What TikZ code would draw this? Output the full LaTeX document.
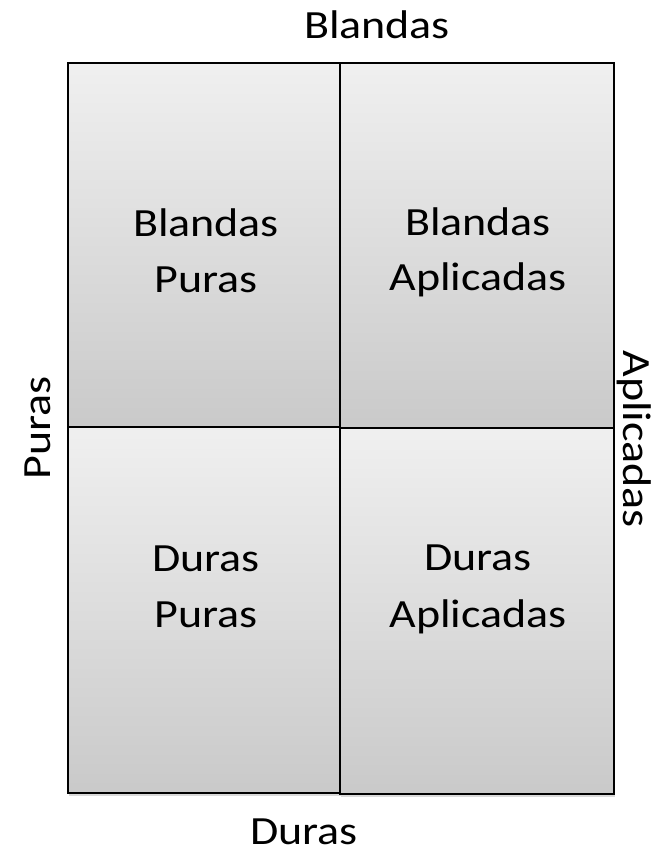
\documentclass[tikz,border=0pt]{standalone}
\usepackage{fontspec}
\setmainfont{Carlito}
\usetikzlibrary{shadows}
\newcommand\widetxt[1]{\scalebox{1.15}[1]{#1}}
\begin{document}
\begin{tikzpicture}[x=0.75pt,y=-0.75pt,
  cell/.style={draw=black, line width=1.1pt, top color=black!6, bottom color=black!21,
    drop shadow={opacity=0.3, shadow xshift=1pt, shadow yshift=-2pt}},
  txt/.style={font=\fontsize{30}{36}\selectfont, inner sep=0pt, anchor=base}]
\useasboundingbox (0,0) rectangle (661,852);
% cells
\path[cell] (68,63) rectangle (340,427);
\path[cell] (340,63) rectangle (614,428);
\path[cell] (68,427) rectangle (340,793);
\path[cell] (340,428) rectangle (614,794);
% cell texts
\node[txt] (tl1) at (206,236) {\widetxt{Blandas}};
\node[txt] (tl2) at (206,292) {\widetxt{Puras}};
\node[txt] (tr1) at (478,235) {\widetxt{Blandas}};
\node[txt] (tr2) at (478,290) {\widetxt{Aplicadas}};
\node[txt] (bl1) at (206,571) {\widetxt{Duras}};
\node[txt] (bl2) at (206,627) {\widetxt{Puras}};
\node[txt] (br1) at (478,570) {\widetxt{Duras}};
\node[txt] (br2) at (478,627) {\widetxt{Aplicadas}};
% axis labels
\node[txt] (top) at (377,39) {\widetxt{Blandas}};
\node[txt] (bottom) at (304,844) {\widetxt{Duras}};
\node[txt, rotate=90] (left) at (50,428) {\widetxt{Puras}};
\node[txt, rotate=-90] (right) at (623,439) {\widetxt{Aplicadas}};
\end{tikzpicture}
\end{document}
